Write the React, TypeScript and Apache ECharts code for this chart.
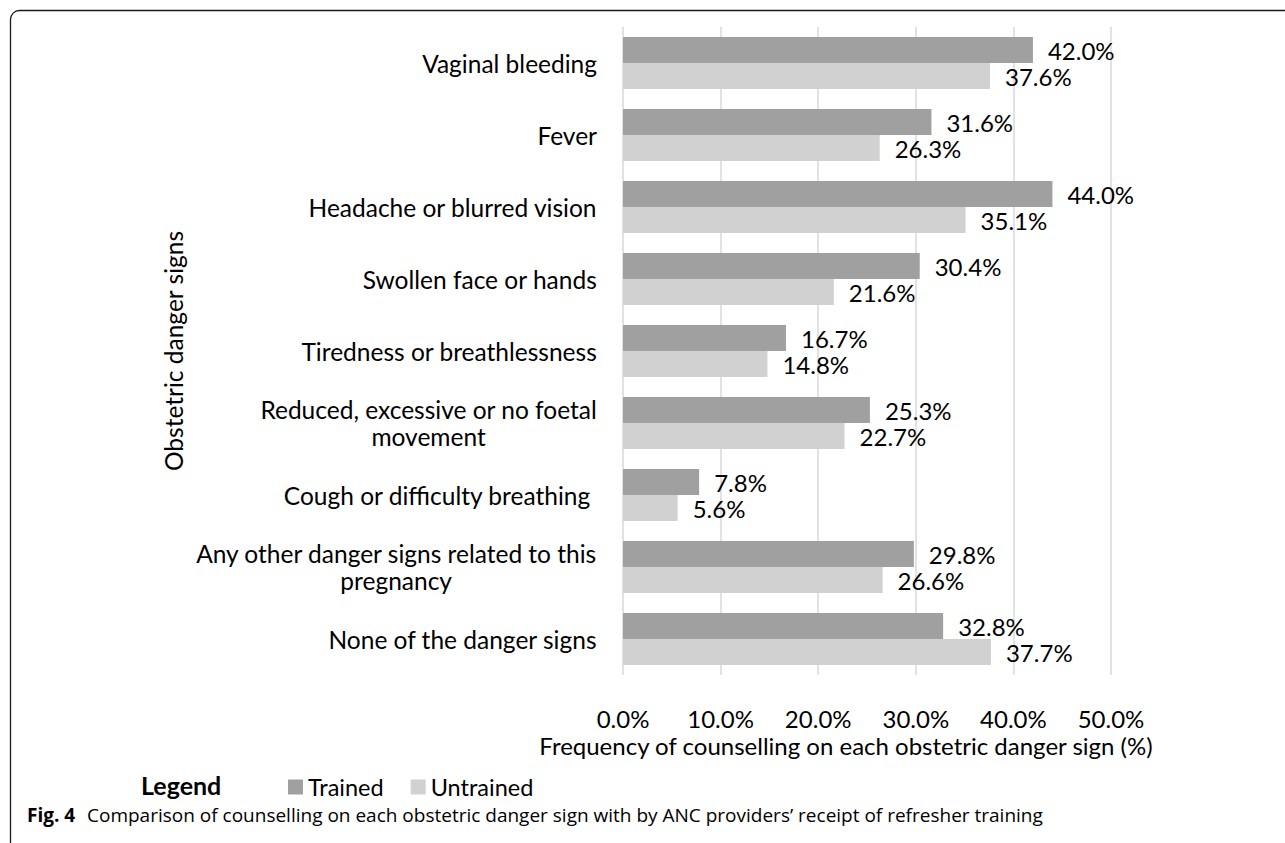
import React, { useEffect, useRef } from "react";
import * as echarts from "echarts";

const categories: string[] = [
  "Vaginal bleeding",
  "Fever",
  "Headache or blurred vision",
  "Swollen face or hands",
  "Tiredness or breathlessness",
  "Reduced, excessive or no foetal\nmovement",
  "Cough or difficulty breathing ",
  "Any other danger signs related to this\npregnancy",
  "None of the danger signs",
];
const trained: number[] = [42.0, 31.6, 44.0, 30.4, 16.7, 25.3, 7.8, 29.8, 32.8];
const untrained: number[] = [37.6, 26.3, 35.1, 21.6, 14.8, 22.7, 5.6, 26.6, 37.7];
const seriesNames: string[] = ["Trained", "Untrained"];
const xMin = 0;
const xMax = 50;
const xInterval = 10;
const yTitle = "Obstetric danger signs";
const xTitle = "Frequency of counselling on each obstetric danger sign (%)";
const captionBold = "Fig. 4";
const captionText =
  "Comparison of counselling on each obstetric danger sign with by ANC providers\u2019 receipt of refresher training";

const FONT = "Lato";
const CAT_SIZE = 24.5;

export default function App() {
  const ref = useRef<HTMLDivElement>(null);
  useEffect(() => {
    document.body.style.margin = "0";
    if (!ref.current) return;
    const chart = echarts.init(ref.current, undefined, { renderer: "svg" });
    const pct = (v: number) => v.toFixed(1) + "%";
    chart.setOption({
      animation: false,
      backgroundColor: "#ffffff",
      textStyle: { fontFamily: FONT, color: "#000" },
      grid: { left: 623, right: 174, top: 27, bottom: 168, containLabel: false },
      xAxis: {
        type: "value",
        min: xMin,
        max: xMax,
        interval: xInterval,
        axisLine: { show: false },
        axisTick: { show: false },
        splitLine: { show: true, lineStyle: { color: "#d9d9d9", width: 1.5 } },
        axisLabel: {
          formatter: (v: number) => pct(v),
          fontFamily: FONT,
          fontSize: 24,
          lineHeight: 20,
          color: "#000",
          margin: 33,
        },
      },
      yAxis: {
        type: "category",
        data: categories,
        inverse: true,
        axisLine: { show: false },
        axisTick: { show: false },
        splitLine: { show: false },
        name: yTitle,
        nameLocation: "middle",
        nameRotate: 90,
        nameGap: 437,
        nameTextStyle: { fontFamily: FONT, fontSize: CAT_SIZE, color: "#000" },
        axisLabel: {
          margin: 26,
          fontFamily: FONT,
          fontSize: CAT_SIZE,
          color: "#000",
          formatter: (v: string) =>
            v
              .split("\n")
              .map((l) => `{c|${l}}`)
              .join("\n"),
          rich: {
            c: { align: "center", fontFamily: FONT, fontSize: CAT_SIZE, color: "#000", lineHeight: 27 },
          },
        },
      },
      legend: {
        data: seriesNames,
        left: 288,
        top: 775,
        padding: 0,
        icon: "rect",
        itemWidth: 15,
        itemHeight: 15,
        itemGap: 27,
        textStyle: { fontFamily: FONT, fontSize: 23.5, color: "#000", lineHeight: 20 },
      },
      series: [
        {
          name: seriesNames[0],
          type: "bar",
          data: trained,
          barWidth: 26,
          barGap: "0%",
          itemStyle: { color: "#a0a0a0" },
          label: {
            show: true,
            position: "right",
            distance: 15,
            formatter: (p: any) => pct(p.value),
            fontFamily: FONT,
            fontSize: 24,
            color: "#000",
          },
        },
        {
          name: seriesNames[1],
          type: "bar",
          data: untrained,
          barWidth: 26,
          barGap: "0%",
          itemStyle: { color: "#d0d1d0" },
          label: {
            show: true,
            position: "right",
            distance: 15,
            formatter: (p: any) => pct(p.value),
            fontFamily: FONT,
            fontSize: 24,
            color: "#000",
          },
        },
      ],
      graphic: [
        {
          type: "rect",
          silent: true,
          z: -1,
          shape: { x: 10.5, y: 10.5, width: 1320, height: 860, r: 9 },
          style: { fill: "none", stroke: "#1a1a1a", lineWidth: 1.3 },
        },
        {
          type: "text",
          x: 846,
          y: 745,
          style: {
            text: xTitle,
            fontFamily: FONT,
            fontSize: 24,
            lineHeight: 20,
            fill: "#000",
            textAlign: "center",
            textVerticalAlign: "middle",
          },
        },
        {
          type: "text",
          x: 141,
          y: 785,
          style: {
            text: "Legend",
            fontFamily: FONT,
            fontSize: 25,
            lineHeight: 20,
            fontWeight: "bold",
            fill: "#000",
            textAlign: "left",
            textVerticalAlign: "middle",
          },
        },
        {
          type: "text",
          x: 27,
          y: 815,
          style: {
            text: captionBold,
            fontFamily: "Open Sans",
            fontSize: 19,
            lineHeight: 18,
            fontWeight: "bold",
            fill: "#000",
            textAlign: "left",
            textVerticalAlign: "middle",
          },
        },
        {
          type: "text",
          x: 87,
          y: 815,
          style: {
            text: captionText,
            fontFamily: "Open Sans",
            fontSize: 19,
            lineHeight: 18,
            fill: "#000",
            textAlign: "left",
            textVerticalAlign: "middle",
          },
        },
      ],
    });
    return () => chart.dispose();
  }, []);
  return <div ref={ref} style={{ width: 1285, height: 843 }} />;
}
